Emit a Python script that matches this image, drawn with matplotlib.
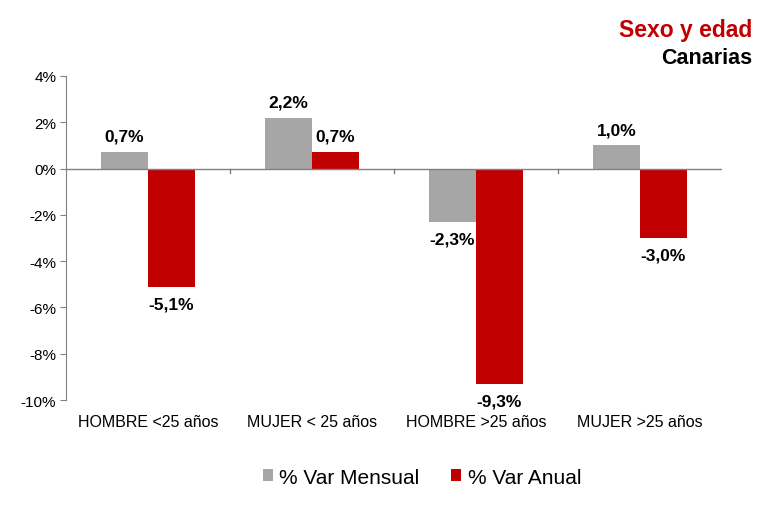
import matplotlib
matplotlib.use("Agg")
import matplotlib.pyplot as plt
import matplotlib.ticker as mticker
import numpy as np

plt.rcParams["font.family"] = ["Liberation Sans", "DejaVu Sans"]

categories = ["HOMBRE <25 años", "MUJER < 25 años", "HOMBRE >25 años", "MUJER >25 años"]
var_mensual = [0.7, 2.2, -2.3, 1.0]
var_anual = [-5.1, 0.7, -9.3, -3.0]
series_names = ["% Var Mensual", "% Var Anual"]
colors = ["#A6A6A6", "#C00000"]


def fmt(v):
    return ("%.1f%%" % v).replace(".", ",")


fig = plt.figure(figsize=(7.77, 5.06), dpi=100)
ax = fig.add_axes([0.085, 0.2075, 0.844, 0.6405])

x = np.arange(len(categories))
w = 0.287
bars = []
for i, (vals, c) in enumerate(zip([var_mensual, var_anual], colors)):
    b = ax.bar(x + (i - 0.5) * w, vals, w, color=c, label=series_names[i], zorder=2)
    bars.append(b)
    for rect, v in zip(b, vals):
        xc = rect.get_x() + rect.get_width() / 2
        if v >= 0:
            ax.annotate(fmt(v), (xc, v), xytext=(0, 6), textcoords="offset points",
                        ha="center", va="bottom", fontsize=12.5, fontweight="bold")
        else:
            ax.annotate(fmt(v), (xc, v), xytext=(0, -7), textcoords="offset points",
                        ha="center", va="top", fontsize=12.5, fontweight="bold")

ax.set_xlim(-0.5, len(categories) - 0.5)
ax.set_ylim(-10, 4)
ax.yaxis.set_major_locator(mticker.MultipleLocator(2))
ax.yaxis.set_major_formatter(mticker.FuncFormatter(lambda v, p: "%d%%" % round(v)))
ax.tick_params(axis="y", labelsize=11, length=4, color="#808080", pad=3)

# zero line with category boundary ticks
ax.axhline(0, color="#808080", lw=1, zorder=3)
for b in np.arange(0.5, len(categories) - 0.5, 1):
    ax.plot([b, b], [0, -0.2], color="#808080", lw=1, zorder=3)

ax.set_xticks(x)
ax.set_xticklabels(categories, fontsize=11.5)
ax.tick_params(axis="x", length=0, pad=10)

for s in ["top", "right", "bottom"]:
    ax.spines[s].set_visible(False)
ax.spines["left"].set_color("#808080")

fig.legend(handles=bars, labels=series_names, loc="center", bbox_to_anchor=(0.543, 0.055),
           ncol=2, frameon=False, fontsize=15, handlelength=0.5, handleheight=0.5,
           handletextpad=0.3, columnspacing=1.5)

fig.text(0.968, 0.94, "Sexo y edad", color="#C00000", fontsize=16.5, fontweight="bold",
         ha="right", va="center")
fig.text(0.968, 0.885, "Canarias", color="black", fontsize=15.5, fontweight="bold",
         ha="right", va="center")

fig.savefig("out.png", dpi=100)
